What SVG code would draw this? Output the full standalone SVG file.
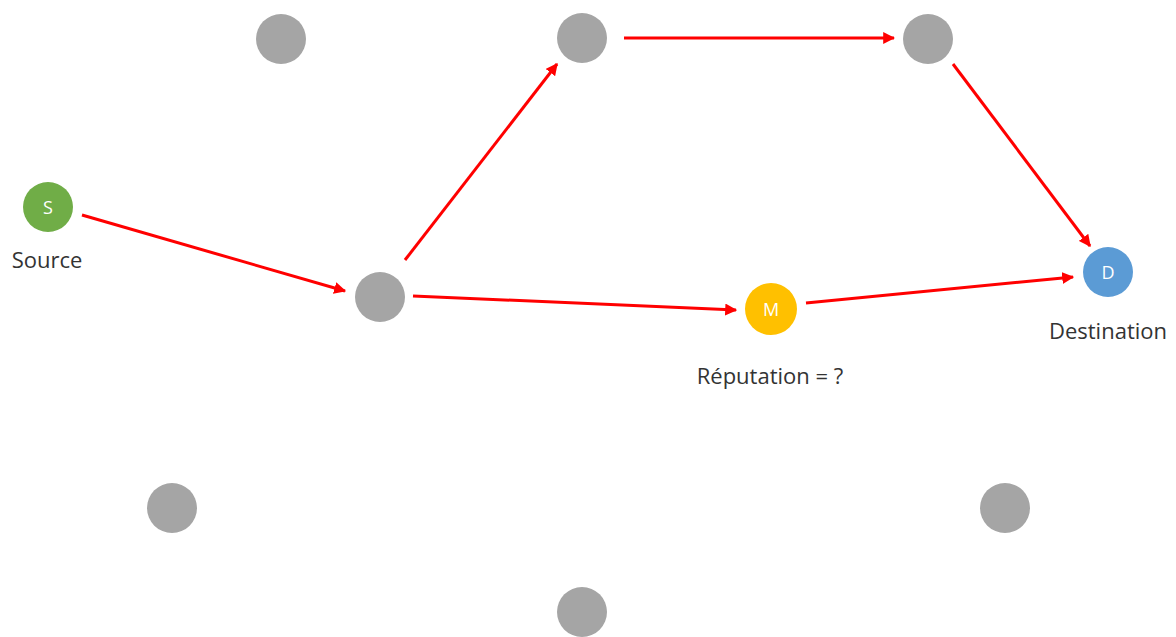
<svg xmlns="http://www.w3.org/2000/svg" width="1176" height="637" viewBox="0 0 1176 637">
<style>
.g{fill:#a5a5a5;}
.lbl{font-family:"Open Sans","Liberation Sans",sans-serif;font-size:22px;fill:#333333;text-anchor:middle;}
.in{font-family:"Open Sans","Liberation Sans",sans-serif;font-size:18px;fill:#ffffff;text-anchor:middle;}
.e{stroke:#ff0000;stroke-width:3;fill:none;marker-end:url(#ah);}
</style>
<defs>
<marker id="ah" viewBox="0 0 10 10" refX="9" refY="5" markerWidth="4" markerHeight="4" orient="auto" markerUnits="strokeWidth">
<path d="M0,0 L10,5 L0,10 z" fill="#ff0000"/>
</marker>
</defs>
<rect width="1176" height="637" fill="#ffffff"/>
<g id="connectors">
<line class="e" x1="82" y1="215" x2="345" y2="291"/>
<line class="e" x1="405" y1="260" x2="557" y2="64"/>
<line class="e" x1="624" y1="38" x2="894" y2="38"/>
<line class="e" x1="953" y1="64" x2="1090" y2="246"/>
<line class="e" x1="413" y1="296" x2="736" y2="310"/>
<line class="e" x1="806" y1="303" x2="1073" y2="277"/>
</g>
<g id="n1"><circle class="g" cx="281" cy="39" r="25"/></g>
<g id="n2"><circle class="g" cx="582" cy="38" r="25"/></g>
<g id="n3"><circle class="g" cx="928" cy="39" r="25"/></g>
<g id="n4"><circle class="g" cx="380" cy="297" r="25"/></g>
<g id="n5"><circle class="g" cx="172" cy="508" r="25"/></g>
<g id="n6"><circle class="g" cx="1005" cy="508" r="25"/></g>
<g id="n7"><circle class="g" cx="582" cy="612" r="25"/></g>
<g id="source"><circle cx="48" cy="207" r="25" fill="#70ad47"/><text class="in" x="48" y="214">S</text><text class="lbl" x="47" y="268">Source</text></g>
<g id="m"><circle cx="771" cy="309" r="26" fill="#ffc000"/><text class="in" x="771" y="316">M</text><text class="lbl" x="770" y="384">Réputation = ?</text></g>
<g id="destination"><circle cx="1108" cy="272" r="25" fill="#5b9bd5"/><text class="in" x="1108" y="279">D</text><text class="lbl" x="1108" y="339">Destination</text></g>
</svg>
